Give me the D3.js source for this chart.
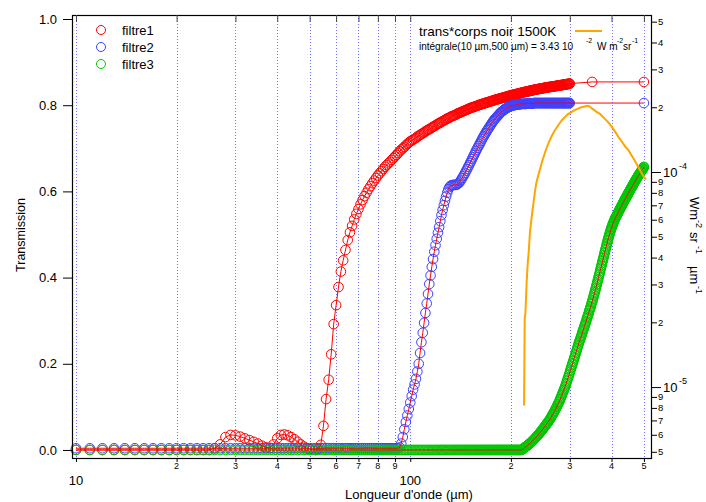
<!DOCTYPE html>
<html><head><meta charset="utf-8">
<script src="https://cdn.jsdelivr.net/npm/d3@7/dist/d3.min.js"></script>
<style>
html,body{margin:0;padding:0;background:#fff;}
svg{display:block;}
text{font-family:"Liberation Sans",Arial,Helvetica,sans-serif;fill:#000;}
</style></head><body>
<svg id="chart" width="706" height="502"></svg>
<script>
// ---------- DATA ----------
// wavelength sampling grid (µm), 1 µm step
const wlMain = d3.range(10, 301);          // 10 .. 300
const filtre1Wl = wlMain.concat([350, 500]);
const filtre2Wl = wlMain.concat([500]);
const filtre3Wl = d3.range(10, 501);       // 10 .. 500

const filtre1 = [
0,0,0,0,0,0,0,0,0,0,
0,0,0,0,0,0,0.004,0.013,0.030,0.035,
0.034,0.031,0.027,0.023,0.019,0.015,0.010,0.006,0.005,0.013,
0.027,0.035,0.036,0.034,0.030,0.025,0.019,0.013,0.008,0.004,
0.002,0.001,0.000,0.002,0.012,0.056,0.118,0.163,0.222,0.292,
0.336,0.378,0.414,0.440,0.464,0.487,0.505,0.520,0.535,0.548,
0.559,0.570,0.580,0.589,0.597,0.605,0.612,0.619,0.625,0.631,
0.637,0.642,0.647,0.652,0.657,0.661,0.665,0.669,0.673,0.677,
0.681,0.685,0.689,0.693,0.697,0.700,0.703,0.707,0.710,0.713,
0.716,
0.718,0.720,0.722,0.724,0.727,0.729,0.731,0.733,0.735,0.737,
0.739,0.741,0.743,0.744,0.746,0.748,0.750,0.751,0.753,0.755,
0.757,0.758,0.760,0.761,0.763,0.764,0.766,0.767,0.769,0.770,
0.771,0.773,0.774,0.775,0.776,0.777,0.778,0.780,0.781,0.782,
0.783,0.784,0.785,0.786,0.787,0.788,0.789,0.790,0.791,0.792,
0.793,0.794,0.795,0.795,0.796,0.797,0.798,0.798,0.799,0.800,
0.801,0.801,0.802,0.803,0.803,0.804,0.805,0.805,0.806,0.807,
0.807,0.808,0.808,0.809,0.810,0.810,0.811,0.811,0.812,0.813,
0.813,0.814,0.814,0.815,0.815,0.816,0.816,0.817,0.817,0.818,
0.818,0.819,0.819,0.820,0.820,0.821,0.821,0.822,0.822,0.823,
0.823,0.824,0.824,0.824,0.825,0.825,0.826,0.826,0.826,0.827,
0.827,0.828,0.828,0.828,0.829,0.829,0.830,0.830,0.830,0.831,
0.831,0.831,0.832,0.832,0.832,0.833,0.833,0.833,0.834,0.834,
0.834,0.835,0.835,0.835,0.836,0.836,0.836,0.836,0.837,0.837,
0.837,0.838,0.838,0.838,0.838,0.839,0.839,0.839,0.839,0.840,
0.840,0.840,0.840,0.841,0.841,0.841,0.841,0.842,0.842,0.842,
0.842,0.842,0.843,0.843,0.843,0.843,0.843,0.844,0.844,0.844,
0.844,0.844,0.845,0.845,0.845,0.845,0.845,0.846,0.846,0.846,
0.846,0.846,0.847,0.847,0.847,0.847,0.847,0.848,0.848,0.848,
0.848,0.848,0.849,0.849,0.849,0.849,0.849,0.850,0.850,0.850,
0.854,0.854];

const filtre2 = [
0.004,0.004,0.004,0.004,0.004,0.004,0.004,0.004,0.004,0.004,
0.004,0.004,0.004,0.004,0.004,0.004,0.004,0.004,0.004,0.004,
0.004,0.004,0.004,0.004,0.004,0.004,0.004,0.004,0.004,0.004,
0.004,0.004,0.004,0.004,0.004,0.004,0.004,0.004,0.004,0.004,
0.004,0.004,0.004,0.004,0.004,0.004,0.004,0.004,0.004,0.004,
0.004,0.004,0.004,0.004,0.004,0.004,0.004,0.004,0.004,0.004,
0.004,0.004,0.004,0.004,0.004,0.004,0.004,0.004,0.004,0.004,
0.004,0.004,0.004,0.004,0.004,0.004,0.004,0.004,0.004,0.004,
0.004,0.004,0.004,0.006,0.015,0.030,0.048,0.065,0.080,0.095,
0.110,
0.125,0.140,0.152,0.165,0.182,0.200,0.225,0.250,0.272,0.295,
0.318,0.340,0.362,0.385,0.405,0.425,0.443,0.460,0.475,0.490,
0.504,0.517,0.531,0.545,0.557,0.568,0.578,0.588,0.597,0.605,
0.610,0.613,0.614,0.615,0.615,0.615,0.615,0.616,0.618,0.620,
0.623,0.627,0.631,0.635,0.639,0.643,0.648,0.652,0.657,0.661,
0.666,0.670,0.675,0.679,0.684,0.688,0.693,0.697,0.701,0.705,
0.709,0.713,0.717,0.721,0.725,0.728,0.732,0.735,0.739,0.742,
0.745,0.748,0.751,0.754,0.757,0.760,0.763,0.765,0.768,0.770,
0.772,0.774,0.776,0.778,0.780,0.782,0.784,0.785,0.787,0.788,
0.790,0.791,0.792,0.793,0.794,0.795,0.796,0.797,0.797,0.798,
0.799,0.799,0.800,0.800,0.800,0.801,0.801,0.801,0.802,0.802,
0.802,0.802,0.802,0.803,0.803,0.803,0.803,0.803,0.803,0.803,
0.803,0.803,0.804,0.804,0.804,0.804,0.804,0.804,0.804,0.804,
0.804,0.804,0.804,0.805,0.805,0.805,0.805,0.805,0.805,0.805,
0.805,0.805,0.805,0.805,0.805,0.805,0.805,0.805,0.805,0.805,
0.805,0.805,0.805,0.805,0.805,0.805,0.805,0.805,0.805,0.805,
0.805,0.805,0.805,0.805,0.805,0.805,0.805,0.805,0.805,0.805,
0.805,0.805,0.805,0.805,0.805,0.805,0.805,0.805,0.805,0.805,
0.805,0.805,0.805,0.805,0.805,0.805,0.805,0.805,0.805,0.805,
0.805,0.805,0.805,0.805,0.805,0.805,0.805,0.805,0.805,0.805,
0.805];

const filtre3 = [
0,0,0,0,0,0,0,0,0,0, 0,0,0,0,0,0,0,0,0,0,
0,0,0,0,0,0,0,0,0,0, 0,0,0,0,0,0,0,0,0,0,
0,0,0,0,0,0,0,0,0,0, 0,0,0,0,0,0,0,0,0,0,
0,0,0,0,0,0,0,0,0,0, 0,0,0,0,0,0,0,0,0,0,
0,0,0,0,0,0,0,0,0,0, 0,0,0,0,0,0,0,0,0,0,
0,0,0,0,0,0,0,0,0,0, 0,0,0,0,0,0,0,0,0,0,
0,0,0,0,0,0,0,0,0,0, 0,0,0,0,0,0,0,0,0,0,
0,0,0,0,0,0,0,0,0,0, 0,0,0,0,0,0,0,0,0,0,
0,0,0,0,0,0,0,0,0,0, 0,0,0,0,0,0,0,0,0,0,
0,0,0,0,0,0,0,0,0,0, 0,0,0,0,0,0,0,0,0,0,
0,
0,0,0,0,0,0.001,0.002,0.003,0.005,0.006,
0.007,0.008,0.009,0.010,0.012,0.013,0.014,0.015,0.017,0.018,
0.019,0.021,0.022,0.024,0.025,0.027,0.028,0.030,0.031,0.033,
0.035,0.036,0.038,0.040,0.041,0.043,0.045,0.046,0.048,0.050,
0.052,0.054,0.055,0.057,0.059,0.061,0.063,0.064,0.066,0.068,
0.070,0.072,0.074,0.076,0.079,0.081,0.083,0.085,0.088,0.090,
0.092,0.095,0.097,0.100,0.102,0.105,0.107,0.110,0.112,0.115,
0.118,0.121,0.124,0.127,0.130,0.133,0.136,0.139,0.142,0.145,
0.148,0.152,0.155,0.159,0.162,0.166,0.169,0.173,0.176,0.180,
0.184,0.187,0.191,0.194,0.198,0.201,0.205,0.208,0.212,0.215,
0.219,0.222,0.226,0.229,0.233,0.236,0.240,0.243,0.247,0.250,
0.253,0.256,0.259,0.262,0.265,0.268,0.272,0.275,0.278,0.281,
0.284,0.287,0.290,0.293,0.296,0.299,0.303,0.306,0.309,0.312,
0.315,0.318,0.322,0.325,0.328,0.331,0.334,0.338,0.341,0.344,
0.347,0.351,0.354,0.358,0.361,0.365,0.368,0.372,0.375,0.379,
0.383,0.386,0.390,0.394,0.397,0.401,0.405,0.408,0.412,0.416,
0.420,0.423,0.427,0.430,0.434,0.438,0.441,0.445,0.448,0.452,
0.456,0.459,0.463,0.466,0.470,0.473,0.477,0.480,0.484,0.487,
0.490,0.493,0.496,0.499,0.502,0.505,0.508,0.511,0.513,0.516,
0.518,0.520,0.523,0.525,0.527,0.529,0.531,0.533,0.535,0.537,
0.539,0.540,0.542,0.543,0.545,0.547,0.548,0.550,0.551,0.553,
0.555,0.556,0.558,0.559,0.561,0.562,0.564,0.565,0.567,0.568,
0.570,0.571,0.573,0.574,0.576,0.577,0.579,0.580,0.582,0.583,
0.584,0.586,0.587,0.589,0.590,0.591,0.593,0.594,0.596,0.597,
0.598,0.600,0.601,0.602,0.604,0.605,0.606,0.608,0.609,0.610,
0.611,0.613,0.614,0.615,0.617,0.618,0.619,0.620,0.622,0.623,
0.624,0.625,0.627,0.628,0.629,0.630,0.631,0.633,0.634,0.635,
0.636,0.637,0.638,0.639,0.641,0.642,0.643,0.644,0.645,0.646,
0.647,0.648,0.649,0.650,0.651,0.652,0.653,0.654,0.656,0.657];

// trans * corps noir 1500K (W m-2 sr-1 µm-1), right axis
const bbWl = [219,220,221,222,223,224,225,226,228,230,232,234,236,238,240,244,248,252,256,260,
  265,270,275,280,285,290,295,300,305,310,315,320,325,330,335,340,345,350,355,360,
  370,380,390,400,410,420,430,440,450,460,470,480,490,500,507];
const bbVal = [0.082e-4,0.21e-4,0.22e-4,0.26e-4,0.31e-4,0.35e-4,0.39e-4,0.42e-4,0.52e-4,0.59e-4,
  0.66e-4,0.73e-4,0.81e-4,0.88e-4,0.93e-4,1.02e-4,1.12e-4,1.21e-4,1.30e-4,1.38e-4,
  1.47e-4,1.55e-4,1.62e-4,1.69e-4,1.75e-4,1.80e-4,1.85e-4,1.88e-4,1.91e-4,1.94e-4,
  1.96e-4,1.98e-4,2.00e-4,2.01e-4,2.02e-4,2.03e-4,2.01e-4,1.97e-4,1.94e-4,1.91e-4,
  1.86e-4,1.78e-4,1.71e-4,1.63e-4,1.54e-4,1.45e-4,1.38e-4,1.31e-4,1.26e-4,1.19e-4,
  1.125e-4,1.06e-4,1.00e-4,0.95e-4,0.92e-4];

// ticks
const xTickVals = [10,20,30,40,50,60,70,80,90,100,200,300,400,500];
const xTickLabels = ["10","2","3","4","5","6","7","8","9","100","2","3","4","5"];
const xMajor = [10,100];
const yTickVals = [0,0.2,0.4,0.6,0.8,1.0];
const yTickLabels = ["0.0","0.2","0.4","0.6","0.8","1.0"];
const rTickVals = [5e-6,6e-6,7e-6,8e-6,9e-6,1e-5,2e-5,3e-5,4e-5,5e-5,6e-5,7e-5,8e-5,9e-5,1e-4,2e-4,3e-4,4e-4,5e-4];
const rTickLabels = ["5","6","7","8","9","10","2","3","4","5","6","7","8","9","10","2","3","4","5"];
const rTickExp = ["","","","","","-5","","","","","","","","","-4","","","",""];

const seriesNames = ["filtre1","filtre2","filtre3"];
const seriesColors = ["#ff0000","#4040ff","#00c800"];

// ---------- CHART ----------
const svg = d3.select("#chart");
const P = {left:72, top:15, right:651, bottom:458};
const x = d3.scaleLog().domain([9.73, 525]).range([P.left, P.right]);
const y = d3.scaleLinear().domain([-0.0186, 1.0093]).range([P.bottom, P.top]);
const yR = d3.scaleLog().domain([4.68e-6, 5.37e-4]).range([P.bottom, P.top]);

// grid
svg.append("g").selectAll("line").data(xTickVals).join("line")
  .attr("x1", d => Math.round(x(d)) + 0.5).attr("x2", d => Math.round(x(d)) + 0.5)
  .attr("y1", P.top).attr("y2", P.bottom)
  .attr("stroke", "#7070ff").attr("stroke-width", 1).attr("stroke-dasharray", "1,2");

const series = [
  {wl: filtre1Wl, v: filtre1},
  {wl: filtre2Wl, v: filtre2},
  {wl: filtre3Wl, v: filtre3}
];
const toPts = s => s.wl.map((w, i) => [w, s.v[i]]).filter(p => p[1] !== undefined);

// markers
series.forEach((s, k) => {
  svg.append("g").selectAll("circle").data(toPts(s)).join("circle")
    .attr("cx", d => x(d[0])).attr("cy", d => y(d[1])).attr("r", 4.8)
    .attr("fill", "none").attr("stroke", seriesColors[k]).attr("stroke-width", 1);
});
// lines (red)
const line = d3.line().x(d => x(d[0])).y(d => y(d[1]));
series.forEach(s => {
  svg.append("path").datum(toPts(s)).attr("d", line)
    .attr("fill", "none").attr("stroke", "#ff0000").attr("stroke-width", 1);
});

// blackbody curve
const bbPts = bbWl.map((w, i) => [w, bbVal[i]]);
svg.append("path").datum(bbPts)
  .attr("d", d3.line().x(d => x(d[0])).y(d => yR(d[1])))
  .attr("fill", "none").attr("stroke", "#ffa500").attr("stroke-width", 2);

// frame
svg.append("rect").attr("x", P.left + 0.5).attr("y", P.top + 0.5)
  .attr("width", P.right - P.left).attr("height", P.bottom - P.top)
  .attr("fill", "none").attr("stroke", "#000").attr("stroke-width", 1.2);

// bottom axis ticks
const gx = svg.append("g").attr("transform", `translate(0,${P.bottom})`)
  .call(d3.axisBottom(x).tickValues(xTickVals).tickSize(4).tickFormat(""));
gx.select(".domain").remove();
// top inward ticks
const gt = svg.append("g").attr("transform", `translate(0,${P.top})`)
  .call(d3.axisTop(x).tickValues(xTickVals).tickSize(-7).tickFormat(""));
gt.select(".domain").remove();
gt.selectAll("line").attr("stroke", "#444");

svg.append("g").selectAll("text").data(xTickVals).join("text")
  .attr("x", d => x(d)).attr("y", d => xMajor.includes(d) ? 485 : 469)
  .attr("text-anchor", "middle")
  .attr("font-size", d => xMajor.includes(d) ? 13 : 9)
  .text((d, i) => xTickLabels[i]);

svg.append("text").attr("x", 409).attr("y", 499).attr("text-anchor", "middle")
  .attr("font-size", 13).text("Longueur d'onde (µm)");

// left axis
const gy = svg.append("g").attr("transform", `translate(${P.left},0)`)
  .call(d3.axisLeft(y).tickValues(yTickVals).tickSize(9).tickPadding(6)
    .tickFormat((d, i) => yTickLabels[i]));
gy.select(".domain").remove();
gy.selectAll("text").attr("font-size", 13).attr("font-family", '"Liberation Sans",Arial,sans-serif');
svg.append("text").attr("transform", "translate(25,235) rotate(-90)")
  .attr("text-anchor", "middle").attr("font-size", 12.5).text("Transmission");

// right axis
const gr = svg.append("g").attr("transform", `translate(${P.right},0)`)
  .call(d3.axisRight(yR).tickValues(rTickVals).tickSize(6).tickFormat(""));
gr.select(".domain").remove();
gr.selectAll(".tick line").attr("x2", (d, i) => rTickExp[i] ? 10 : 6);
const rl = svg.append("g");
rTickVals.forEach((d, i) => {
  if (rTickExp[i]) {
    rl.append("text").attr("x", 663).attr("y", yR(d)).attr("dominant-baseline", "central")
      .attr("font-size", 13).text(rTickLabels[i]);
    rl.append("text").attr("x", 679).attr("y", yR(d) - 6).attr("dominant-baseline", "central")
      .attr("font-size", 9).text(rTickExp[i]);
  } else {
    rl.append("text").attr("x", 658).attr("y", yR(d)).attr("dominant-baseline", "central")
      .attr("font-size", 9.5).text(rTickLabels[i]);
  }
});
const rt = svg.append("g").attr("transform", "translate(690,0) rotate(90)");
[["Wm",197,0,13],["-2",220,-6,9],["sr",232,0,13],["-1",246,-6,9],["µm",266,0,13],["-1",286,-6,9]]
  .forEach(p => rt.append("text").attr("x", p[1]).attr("y", p[2]).attr("font-size", p[3]).text(p[0]));

// legend (top-left)
seriesNames.forEach((n, k) => {
  svg.append("circle").attr("cx", 101).attr("cy", 30 + 17 * k).attr("r", 4.5)
    .attr("fill", "none").attr("stroke", seriesColors[k]).attr("stroke-width", 1);
  svg.append("text").attr("x", 122).attr("y", 30 + 17 * k).attr("dominant-baseline", "central")
    .attr("font-size", 13).text(n);
});

// legend (top-right)
svg.append("text").attr("x", 419).attr("y", 36).attr("font-size", 13.5).text("trans*corps noir 1500K");
svg.append("line").attr("x1", 575).attr("x2", 602).attr("y1", 31).attr("y2", 31)
  .attr("stroke", "#ffa500").attr("stroke-width", 2);
const lg = svg.append("g");
[["intégrale(10 µm,500 µm) = 3.43 10",419,50,10],["-2",586,43,7],["W m",597,50,10],
 ["-2",617,43,7],["sr",623,50,10],["-1",632,43,7]]
  .forEach(p => lg.append("text").attr("x", p[1]).attr("y", p[2]).attr("font-size", p[3]).text(p[0]));
</script>
</body></html>
